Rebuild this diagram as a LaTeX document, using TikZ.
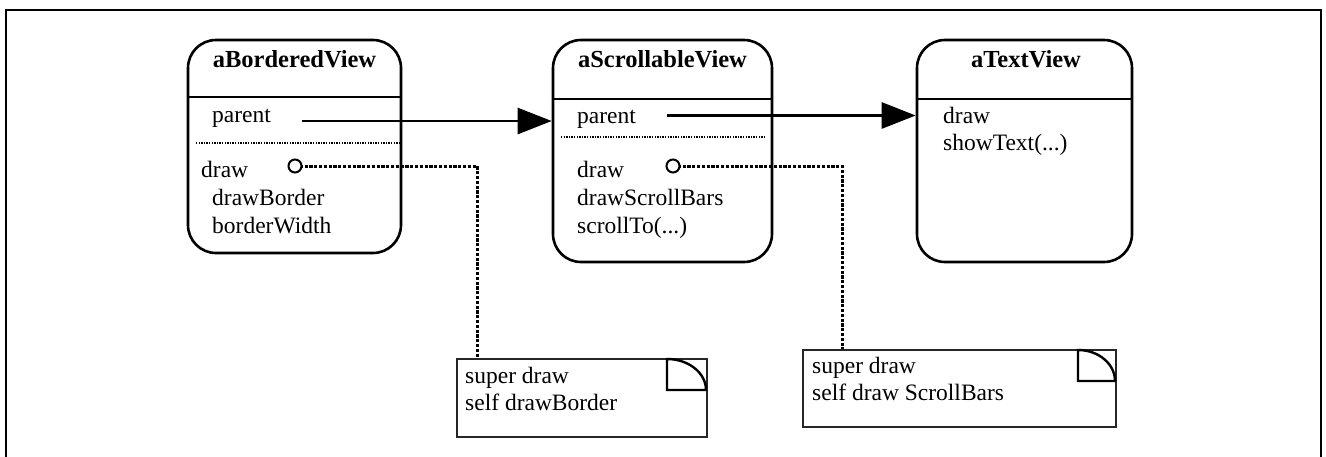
\documentclass[tikz,border=0pt]{standalone}
\usepackage{fontspec}
\setmainfont{Liberation Serif}
\usetikzlibrary{arrows.meta}
\tikzset{
  objbox/.style={draw, line width=2.6pt, rounded corners=28pt, inner sep=0pt},
  txt/.style={anchor=base west, inner sep=0pt, font=\fontsize{23.5}{26}\selectfont},
  ttl/.style={anchor=base, inner sep=0pt, font=\fontsize{24.5}{26}\selectfont\bfseries},
  hline/.style={line width=2.4pt},
  sepline/.style={line width=1.2pt, dash pattern=on 1.3pt off 1.3pt},
  ptr/.style={line width=2.6pt, -{Triangle[length=34pt,width=26pt]}},
  dotconn/.style={line width=3pt, dash pattern=on 3.2pt off 1.6pt},
  pin/.style={circle, draw, line width=2pt, fill=white, minimum size=13pt, inner sep=0pt},
  notebox/.style={draw, line width=1.6pt, draw=black!85, inner sep=0pt},
  fold/.style={line width=2.4pt}
}
\begin{document}
\begin{tikzpicture}[x=1pt,y=-1pt]
\useasboundingbox (0,0) rectangle (1326,456);
% outer frame
\draw[line width=2.4pt] (6,460) -- (6,10) -- (1321,10) -- (1321,460);

% boxes
\node[objbox, minimum width=213pt, minimum height=213pt] (bv) at (294.5,146.5) {};
\node[objbox, minimum width=219pt, minimum height=222pt] (sv) at (662.5,151) {};
\node[objbox, minimum width=215pt, minimum height=222pt] (tv) at (1024.5,151) {};

% header lines
\draw[hline] (bv.west |- 0,97) -- (bv.east |- 0,97);
\draw[hline] (sv.west |- 0,99) -- (sv.east |- 0,99);
\draw[hline] (tv.west |- 0,99) -- (tv.east |- 0,99);

% titles
\node[ttl] (t1) at (294.5,67) {aBorderedView};
\node[ttl] (t2) at (662.5,67) {aScrollableView};
\node[ttl] (t3) at (1026,67) {aTextView};

% separators
\draw[sepline] (196,143) -- (400,143);
\draw[sepline] (561,137) -- (766,137);

% box 1 text
\node[txt] (b1p) at (212,122) {parent};
\node[txt] (b1d) at (201,177) {draw};
\node[txt] (b1b) at (212,205) {drawBorder};
\node[txt] (b1w) at (212,233) {borderWidth};
% box 2 text
\node[txt] (b2p) at (577,123) {parent};
\node[txt] (b2d) at (577,177) {draw};
\node[txt] (b2s) at (577,205) {drawScrollBars};
\node[txt] (b2t) at (577,233) {scrollTo(...)};
% box 3 text
\node[txt] (b3d) at (943,123) {draw};
\node[txt] (b3s) at (943,150) {showText(...)};

% parent pointers
\coordinate (p1) at (302,121);
\coordinate (p2) at (667,115.5);
\draw[ptr] (p1) -- (p1 -| sv.west);
\draw[ptr] (p2) -- (p2 -| tv.west);

% notes
\node[notebox, minimum width=250pt, minimum height=78pt] (n1) at (582,398) {};
\node[notebox, minimum width=313pt, minimum height=77pt] (n2) at (959.5,388.5) {};
\node[txt] (n1a) at (465,383) {super draw};
\node[txt] (n1b) at (465,410) {self drawBorder};
\node[txt] (n2a) at (812,373) {super draw};
\node[txt] (n2b) at (812,400) {self draw ScrollBars};

% folds
\draw[fold] (667,359) -- (667,390) -- (706,390) arc[start angle=0, end angle=90, x radius=39pt, y radius=31pt] -- cycle;
\draw[fold] (1078,350) -- (1078,381) -- (1115,381) arc[start angle=0, end angle=90, x radius=37pt, y radius=31pt] -- cycle;

% pins and dotted connectors
\coordinate (k1) at (477,166);
\coordinate (k2) at (842,166);
\draw[dotconn] (295,166) -- (k1) -- (k1 |- n1.north);
\draw[dotconn] (673,166) -- (k2) -- (k2 |- n2.north);
\node[pin] (c1) at (295,166) {};
\node[pin] (c2) at (673,166) {};
\end{tikzpicture}
\end{document}
